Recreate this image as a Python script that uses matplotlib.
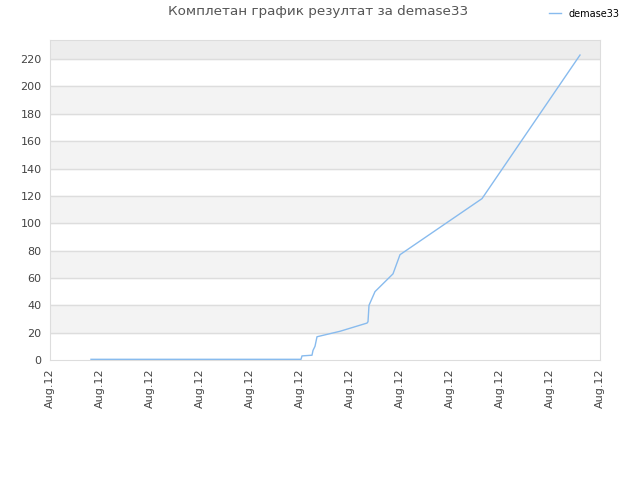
import matplotlib
matplotlib.use("Agg")
import matplotlib.pyplot as plt

# series (x in tick units, y = score)
xs = [0.82, 5.02, 5.04, 5.24, 5.26, 5.30, 5.34, 5.80, 6.34, 6.36, 6.38, 6.50, 6.86, 7.00, 8.64, 10.60]
ys = [0.5, 0.5, 3, 3.5, 7, 10, 17, 21, 27, 28, 40, 50, 63, 77, 118, 223]
xlabels = ["Aug.12"] * 12
yticks = list(range(0, 221, 20))

fig = plt.figure(figsize=(6.4, 4.8), dpi=100)
ax = fig.add_axes([50/640, 120/480, 550/640, 320/480])

# alternate bands
for lo in range(20, 220, 40):
    ax.axhspan(lo, lo + 20, color="#f3f3f3", zorder=0)
ax.axhspan(220, 234, color="#ededed", zorder=0)
for t in yticks[1:]:
    ax.axhline(t, color="#dddddd", lw=1, zorder=1)

ax.plot(xs, ys, color="#88bbee", lw=1, label="demase33", zorder=3)

ax.set_xlim(0, 11)
ax.set_ylim(0, 234)
ax.set_yticks(yticks)
ax.set_xticks(range(12))
ax.set_xticklabels(xlabels, rotation=90)
ax.tick_params(length=0, labelsize=8, colors="#444444", pad=6)
for s in ax.spines.values():
    s.set_color("#dddddd")

fig.text(318/640, 1 - 12/480, "Комплетан график резултат за demase33", ha="center", va="center",
         fontsize=9.7, color="#555555")
fig.legend(loc="upper right", bbox_to_anchor=(0.982, 1.0), frameon=False, fontsize=7,
           handlelength=1.2)

fig.savefig("out.png")
